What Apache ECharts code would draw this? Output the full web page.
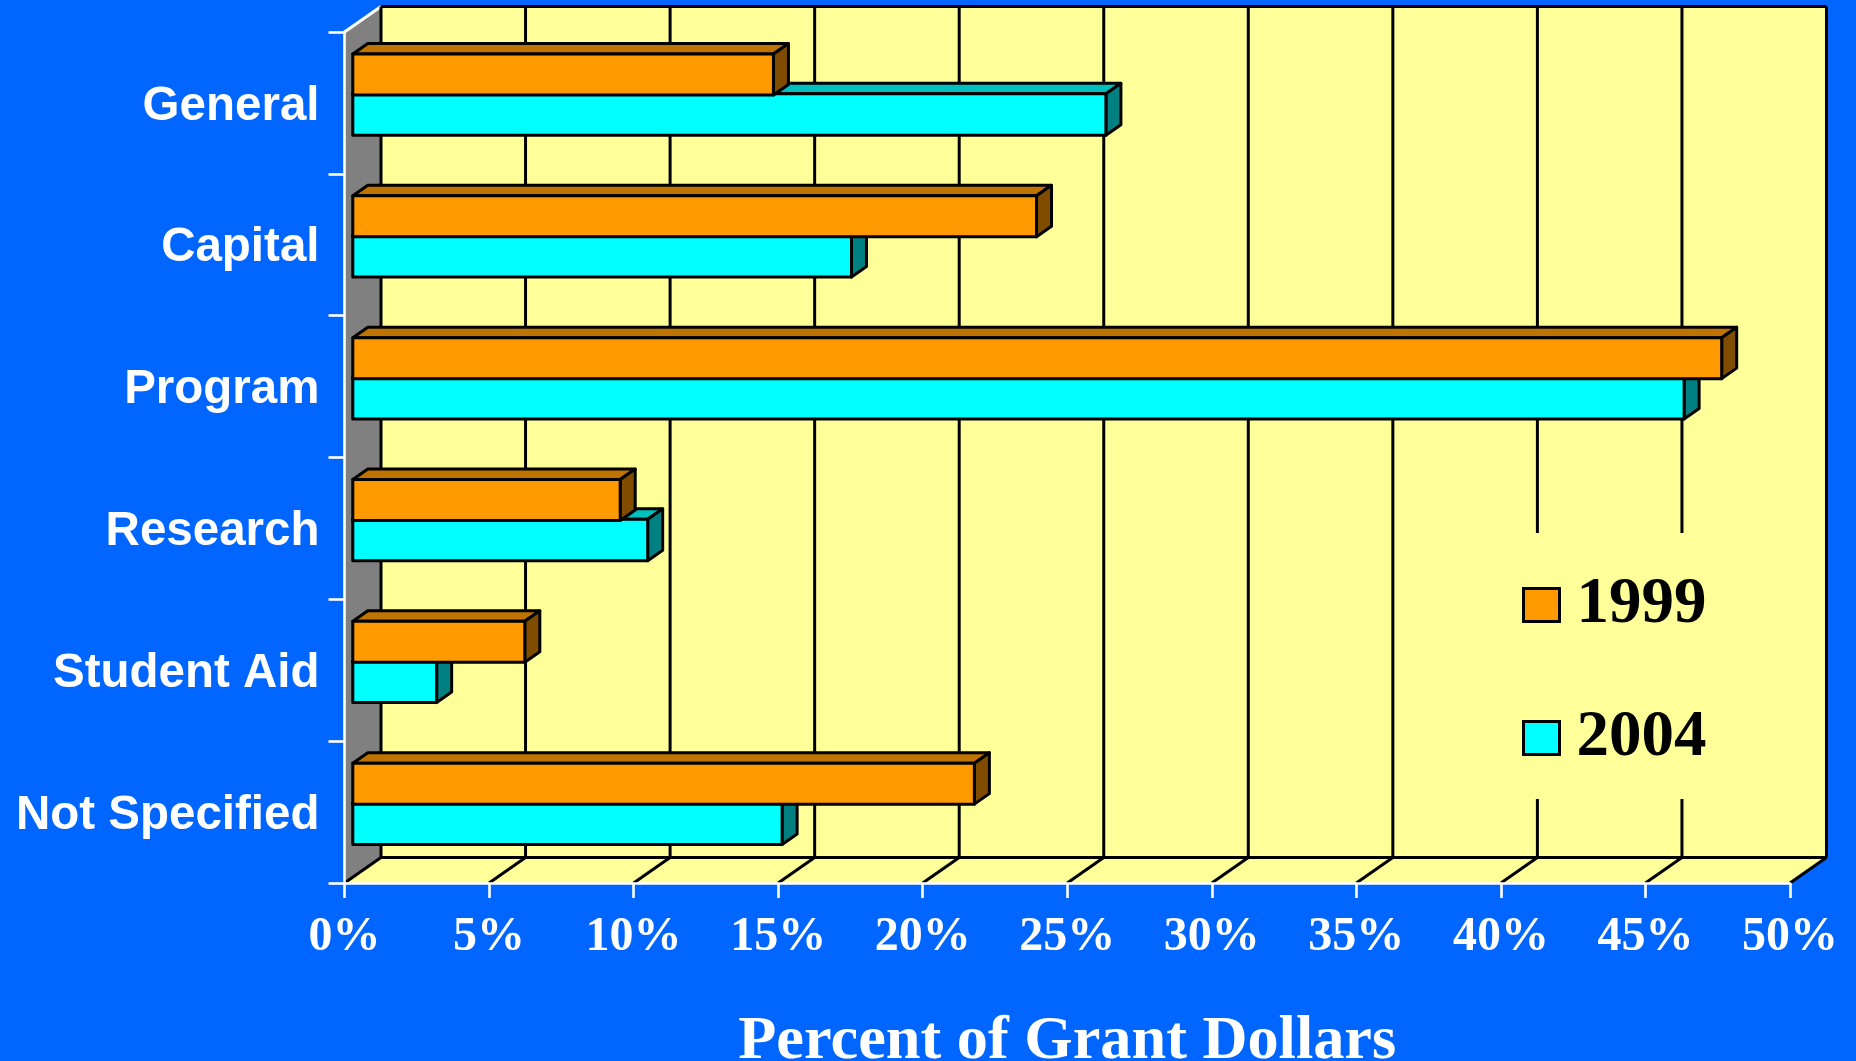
<!DOCTYPE html>
<html><head><meta charset="utf-8">
<style>html,body{margin:0;padding:0;background:#0066FF}#c{width:1856px;height:1061px}</style>
<script src="https://cdn.jsdelivr.net/npm/echarts@6/dist/echarts.min.js"></script>
</head><body><div id="c"></div>
<script>
const categories = ['General','Capital','Program','Research','Student Aid','Not Specified'];
const values1999 = [14.55,23.65,47.35,9.25,5.95,21.5];
const values2004 = [26.05,17.25,46.05,10.2,2.9,14.85];
const xTicks = [0,5,10,15,20,25,30,35,40,45,50];

const DX=36.5, DY=-25.5, BDX=15, BDY=-10.5, FX=8.3, LW=3;
const BLACK='#000', YEL='#FFFF99';
const chart=echarts.init(document.getElementById('c'),null,{renderer:'canvas'});

function poly(points,fill,stroke,w){
  return {type:'polygon',shape:{points},style:{fill:fill||'none',stroke:stroke||'none',lineWidth:w||0,lineJoin:'round'}};
}
function seg(a,b,color,w){
  return {type:'line',shape:{x1:a[0],y1:a[1],x2:b[0],y2:b[1]},style:{stroke:color,lineWidth:w}};
}
function renderBack(params,api){
  const rect=params.coordSys;
  const l=rect.x,r=rect.x+rect.width,t=rect.y,b=rect.y+rect.height;
  const ch=[
    poly([[l+DX,t+DY],[r+DX,t+DY],[r+DX,b+DY],[l+DX,b+DY]],YEL),
    poly([[l,b],[l+DX,b+DY],[r+DX,b+DY],[r,b]],YEL),
    poly([[l,t],[l+DX,t+DY],[l+DX,b+DY],[l,b]],'#808080'),
    seg([l+DX,t+DY],[r+DX,t+DY],BLACK,LW),
    seg([r+DX,t+DY],[r+DX,b+DY],BLACK,LW),
    seg([l+DX,b+DY],[r+DX,b+DY],BLACK,LW),
    seg([r+DX,b+DY],[r,b],BLACK,LW),
    seg([l,t],[l+DX,t+DY],'#fff',LW)
  ];
  xTicks.forEach(v=>{
    const p=api.coord([v,categories[5]]);
    const x=p[0];
    if(v<50) ch.push(seg([x+DX,t+DY],[x+DX,b+DY],BLACK,LW));
    if(v<50) ch.push(seg([x,b],[x+DX,b+DY],BLACK,LW));
  });
  return {type:'group',children:ch};
}
function barRender(front,top,side,offsetA,offsetB){
  return function(params,api){
    const v=api.value(0), c=api.value(1);
    const p=api.coord([v,c]), o=api.coord([0,c]);
    const band=api.size([0,1])[1];
    const y1=p[1]+offsetA*band, y2=p[1]+offsetB*band;
    const x0=o[0]+FX, x1=p[0]+FX;
    return {type:'group',children:[
      poly([[x0,y1],[x0+BDX,y1+BDY],[x1+BDX,y1+BDY],[x1,y1]],top,BLACK,LW),
      poly([[x1,y1],[x1+BDX,y1+BDY],[x1+BDX,y2+BDY],[x1,y2]],side,BLACK,LW),
      poly([[x0,y1],[x1,y1],[x1,y2],[x0,y2]],front,BLACK,LW)
    ]};
  };
}
function rows(vals){return vals.map((v,i)=>[v,categories[i]]);}

chart.setOption({
  animation:false,
  backgroundColor:'#0066FF',
  grid:{left:344.5,right:66,top:32,bottom:178,containLabel:false,outerBoundsMode:'none'},
  xAxis:{type:'value',min:0,max:50,interval:5,z:10,
    axisLine:{show:true,lineStyle:{color:'#fff',width:2.6}},
    axisTick:{show:true,length:15,lineStyle:{color:'#fff',width:2.6}},
    splitLine:{show:false},
    axisLabel:{color:'#fff',fontFamily:'Liberation Serif',fontWeight:'bold',fontSize:48,margin:31,
      formatter:'{value}%',showMinLabel:true,showMaxLabel:true,hideOverlap:false},
    name:'Percent of Grant Dollars',nameLocation:'middle',nameGap:128,
    nameTextStyle:{color:'#fff',fontFamily:'Liberation Serif',fontWeight:'bold',fontSize:62.3}
  },
  yAxis:{type:'category',inverse:true,data:categories,z:10,
    axisLine:{show:true,lineStyle:{color:'#fff',width:2.6}},
    axisTick:{show:true,length:16,lineStyle:{color:'#fff',width:2.6}},
    splitLine:{show:false},
    axisLabel:{color:'#fff',fontFamily:'Liberation Sans',fontWeight:'bold',fontSize:47.5,margin:25,interval:0,
      verticalAlign:'top',lineHeight:7}
  },
  legend:{
    orient:'vertical',left:1420,top:533,z:20,selectedMode:false,
    backgroundColor:YEL,padding:[39.5,74,28.5,102],itemGap:68,itemWidth:36,itemHeight:33,
    textStyle:{color:'#000',fontFamily:'Liberation Serif',fontWeight:'bold',fontSize:65,padding:[0,0,0,12]},
    data:[
      {name:'1999',icon:'rect',itemStyle:{color:'#FF9900',borderColor:'#000',borderWidth:3}},
      {name:'2004',icon:'rect',itemStyle:{color:'#00FFFF',borderColor:'#000',borderWidth:3}}
    ]
  },
  series:[
    {type:'custom',name:'walls',coordinateSystem:'cartesian2d',z:1,silent:true,clip:false,
     renderItem:renderBack,data:[[0,categories[0]]],encode:{x:0,y:1}},
    {type:'custom',name:'2004',coordinateSystem:'cartesian2d',z:2,silent:true,clip:false,
     renderItem:barRender('#00FFFF','#00BFBF','#008080',-0.064,0.228),
     itemStyle:{color:'#00FFFF'},data:rows(values2004),encode:{x:0,y:1}},
    {type:'custom',name:'1999',coordinateSystem:'cartesian2d',z:3,silent:true,clip:false,
     renderItem:barRender('#FF9900','#BF7300','#804D00',-0.345,-0.056),
     itemStyle:{color:'#FF9900'},data:rows(values1999),encode:{x:0,y:1}}
  ]
});
</script></body></html>
